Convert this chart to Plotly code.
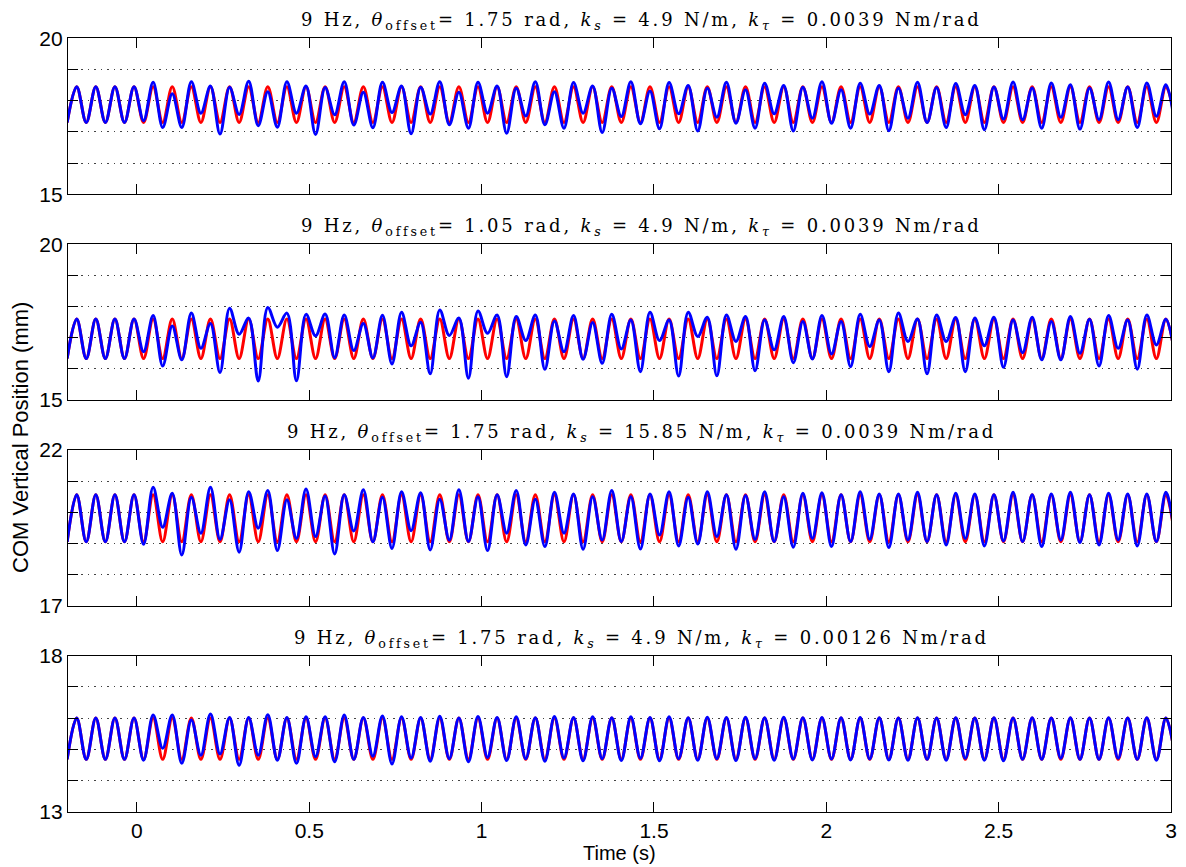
import numpy as np
import plotly.graph_objects as go

# ---------------- data ----------------
T_FIRST = -0.2025        # time of the first trough (s)
HALF_PERIOD = 0.02772    # time between successive extrema (s)

TITLES = [
    "9 Hz, <i>θ</i><sub>offset</sub>= 1.75 rad, <i>k<sub>s</sub></i> = 4.9 N/m, <i>k<sub>τ</sub></i> = 0.0039 Nm/rad",
    "9 Hz, <i>θ</i><sub>offset</sub>= 1.05 rad, <i>k<sub>s</sub></i> = 4.9 N/m, <i>k<sub>τ</sub></i> = 0.0039 Nm/rad",
    "9 Hz, <i>θ</i><sub>offset</sub>= 1.75 rad, <i>k<sub>s</sub></i> = 15.85 N/m, <i>k<sub>τ</sub></i> = 0.0039 Nm/rad",
    "9 Hz, <i>θ</i><sub>offset</sub>= 1.75 rad, <i>k<sub>s</sub></i> = 4.9 N/m, <i>k<sub>τ</sub></i> = 0.00126 Nm/rad",
]
Y_RANGES = [(15, 20), (15, 20), (17, 22), (13, 18)]

# reference (red) curve: trough / peak level of each panel
RED_TROUGH = [17.30, 16.33, 19.05, 14.68]
RED_PEAK = [18.45, 17.60, 20.56, 16.00]

# measured (blue) curve: successive extrema (trough, peak, trough, ...)
BLUE_1 = [17.30, 18.45, 17.30, 18.45, 17.30, 18.45, 17.30, 18.45, 17.36, 18.59,
          17.14, 18.22, 17.14, 18.61, 17.60, 18.47, 16.93, 18.43, 17.56, 18.62,
          17.20, 18.29, 17.15, 18.61, 17.60, 18.47, 16.92, 18.42, 17.55, 18.61,
          17.22, 18.27, 17.13, 18.59, 17.62, 18.47, 16.94, 18.43, 17.57, 18.61,
          17.23, 18.27, 17.12, 18.59, 17.60, 18.47, 16.96, 18.40, 17.51, 18.61,
          17.23, 18.29, 17.12, 18.58, 17.60, 18.47, 16.98, 18.40, 17.49, 18.61,
          17.26, 18.31, 17.10, 18.58, 17.58, 18.49, 17.03, 18.40, 17.47, 18.59,
          17.28, 18.35, 17.12, 18.56, 17.58, 18.49, 17.03, 18.43, 17.44, 18.61,
          17.28, 18.35, 17.12, 18.56, 17.57, 18.49, 17.04, 18.40, 17.44, 18.59,
          17.30, 18.42, 17.14, 18.55, 17.55, 18.49, 17.07, 18.44, 17.41, 18.60,
          17.39, 18.41, 17.12, 18.57, 17.47, 18.51, 17.09, 18.41, 17.39, 18.60,
          17.39, 18.44, 17.14, 18.57, 17.50, 18.51, 17.09]
BLUE_2 = [16.33, 17.60, 16.33, 17.60, 16.33, 17.60, 16.33, 17.60, 16.55, 17.71,
          16.09, 17.38, 16.29, 17.79, 16.66, 17.46, 15.88, 17.95, 17.11, 17.63,
          15.61, 17.97, 17.34, 17.79, 15.62, 17.75, 17.06, 17.76, 16.36, 17.73,
          16.59, 17.46, 16.35, 17.72, 16.16, 17.82, 16.74, 17.50, 15.84, 17.89,
          17.07, 17.63, 15.70, 17.86, 17.14, 17.73, 15.75, 17.68, 16.91, 17.73,
          15.99, 17.54, 16.55, 17.71, 16.31, 17.49, 16.18, 17.75, 16.64, 17.57,
          15.91, 17.82, 16.91, 17.57, 15.77, 17.82, 17.04, 17.66, 15.78, 17.73,
          16.88, 17.68, 15.94, 17.57, 16.61, 17.68, 16.20, 17.52, 16.32, 17.71,
          16.48, 17.52, 16.07, 17.75, 16.72, 17.57, 15.91, 17.79, 16.88, 17.60,
          15.84, 17.73, 16.88, 17.65, 15.91, 17.63, 16.74, 17.66, 16.05, 17.57,
          16.52, 17.66, 16.29, 17.52, 16.29, 17.68, 16.50, 17.59, 16.09, 17.71,
          16.66, 17.57, 15.99, 17.73, 16.77, 17.59, 16.30]
BLUE_3 = [19.05, 20.56, 19.05, 20.56, 19.05, 20.56, 19.05, 20.56, 18.97, 20.80,
          19.52, 20.61, 18.63, 20.48, 19.33, 20.80, 19.13, 20.40, 18.72, 20.66,
          19.49, 20.70, 18.77, 20.40, 19.16, 20.75, 19.22, 20.52, 18.66, 20.56,
          19.40, 20.72, 19.05, 20.48, 18.84, 20.66, 19.41, 20.63, 18.79, 20.42,
          19.11, 20.72, 19.06, 20.50, 18.77, 20.56, 19.33, 20.70, 18.95, 20.42,
          18.90, 20.64, 19.33, 20.59, 18.81, 20.50, 19.11, 20.70, 19.06, 20.50,
          18.82, 20.59, 19.27, 20.66, 18.92, 20.48, 18.98, 20.66, 19.22, 20.56,
          18.81, 20.54, 19.13, 20.66, 19.06, 20.50, 18.88, 20.61, 19.16, 20.63,
          18.90, 20.56, 19.06, 20.66, 19.13, 20.59, 18.87, 20.59, 19.11, 20.64,
          19.06, 20.56, 18.95, 20.61, 19.16, 20.59, 18.92, 20.56, 19.08, 20.64,
          19.06, 20.56, 18.90, 20.59, 19.11, 20.64, 19.03, 20.56, 18.95, 20.61,
          19.11, 20.59, 18.92, 20.59, 19.06, 20.64, 19.10]
BLUE_4 = [14.68, 16.00, 14.68, 16.00, 14.68, 16.00, 14.68, 16.00, 14.65, 16.10,
          15.03, 16.10, 14.55, 15.94, 14.81, 16.13, 14.85, 16.02, 14.49, 16.02,
          14.81, 16.11, 14.65, 16.02, 14.55, 16.04, 14.76, 16.04, 14.60, 16.10,
          14.68, 16.02, 14.78, 16.07, 14.53, 16.04, 14.72, 16.02, 14.62, 16.06,
          14.70, 16.00, 14.60, 16.05, 14.74, 16.02, 14.64, 16.04, 14.70, 16.01,
          14.62, 16.05, 14.72, 16.02, 14.63, 16.04, 14.70, 16.01, 14.64, 16.04,
          14.71, 16.02, 14.63, 16.04, 14.70, 16.01, 14.65, 16.03, 14.70, 16.02,
          14.64, 16.03, 14.70, 16.01, 14.65, 16.03, 14.69, 16.01, 14.66, 16.02,
          14.69, 16.01, 14.66, 16.02, 14.69, 16.01, 14.66, 16.00, 14.65, 16.01,
          14.68, 16.00, 14.65, 16.01, 14.71, 16.00, 14.65, 16.01, 14.63, 16.00,
          14.68, 16.01, 14.68, 16.00, 14.71, 16.01, 14.68, 16.00, 14.68, 16.01,
          14.71, 16.00, 14.68, 16.01, 14.65, 16.00, 14.68]
BLUE = [BLUE_1, BLUE_2, BLUE_3, BLUE_4]

X_TICKS = [0, 0.5, 1, 1.5, 2, 2.5, 3]
X_TICK_LABELS = ["0", "0.5", "1", "1.5", "2", "2.5", "3"]
X_RANGE = (-0.2, 3.0)

# ---------------- figure ----------------
W, H = 1186, 867
M_L, M_R, M_T, M_B = 68, 9, 38, 55
panel_px = [(38.3, 194.3), (244.3, 400.0), (450.0, 605.7), (655.7, 811.7)]
plot_h = (H - M_B) - M_T

def to_dom(top, bot):
    return [((H - M_B) - bot) / plot_h, ((H - M_B) - top) / plot_h]

fig = go.Figure()
tick_font = dict(family="Liberation Sans, Arial, sans-serif", size=21, color="black")
GRID_DASH = "1.5px,5px"

for i in range(4):
    n = len(BLUE[i])
    t = T_FIRST + HALF_PERIOD * np.arange(n)
    red = [RED_TROUGH[i] if k % 2 == 0 else RED_PEAK[i] for k in range(n)]
    ax = "" if i == 0 else str(i + 1)
    fig.add_trace(go.Scatter(x=t, y=red, mode="lines",
                             line=dict(color="#ff0000", width=3, shape="spline", smoothing=1.0),
                             xaxis="x" + ax, yaxis="y" + ax, showlegend=False, hoverinfo="skip"))
    fig.add_trace(go.Scatter(x=t, y=BLUE[i], mode="lines",
                             line=dict(color="#0000ff", width=3, shape="spline", smoothing=1.0),
                             xaxis="x" + ax, yaxis="y" + ax, showlegend=False, hoverinfo="skip"))

    lo, hi = Y_RANGES[i]
    dom = to_dom(*panel_px[i])
    fig.update_layout(**{
        "xaxis" + ax: dict(domain=[0, 1], range=list(X_RANGE), anchor="y" + ax,
                           tickvals=X_TICKS, ticktext=X_TICK_LABELS, showticklabels=(i == 3),
                           ticks="inside", ticklen=10, tickcolor="black", tickwidth=1,
                           showline=True, linecolor="black", linewidth=1.2, mirror="ticks",
                           showgrid=False, zeroline=False, tickfont=tick_font, fixedrange=True),
        "yaxis" + ax: dict(domain=dom, range=[lo, hi], anchor="x" + ax,
                           tickvals=[lo, hi], ticktext=[str(lo), str(hi)],
                           ticks="inside", ticklen=10, tickcolor="black", tickwidth=1,
                           showline=True, linecolor="black", linewidth=1.2, mirror="ticks",
                           showgrid=False, zeroline=False, tickfont=tick_font, fixedrange=True,
                           minor=dict(tickvals=list(range(lo + 1, hi)), ticks="inside", ticklen=10,
                                      tickcolor="black", tickwidth=1, showgrid=True,
                                      gridcolor="#444444", griddash=GRID_DASH, gridwidth=1)),
    })
    fig.add_annotation(text='<span style="letter-spacing:2.8px">' + TITLES[i] + '</span>',
                       xref="paper", yref="paper", x=0.52, y=dom[1],
                       xanchor="center", yanchor="bottom", yshift=3, showarrow=False,
                       font=dict(family="DejaVu Serif, serif", size=18, color="black"))

fig.add_annotation(text="COM Vertical Position (mm)", xref="paper", yref="paper",
                   x=0, y=to_dom(438, 438)[0], xshift=-47, textangle=-90,
                   xanchor="center", yanchor="middle", showarrow=False,
                   font=dict(family="Liberation Sans, Arial, sans-serif", size=22, color="black"))
fig.add_annotation(text="Time (s)", xref="paper", yref="paper", x=0.5, y=0, yshift=-41,
                   xanchor="center", yanchor="middle", showarrow=False,
                   font=dict(family="Liberation Sans, Arial, sans-serif", size=20, color="black"))

fig.update_layout(width=W, height=H, margin=dict(l=M_L, r=M_R, t=M_T, b=M_B, pad=0),
                  paper_bgcolor="white", plot_bgcolor="white", showlegend=False)

fig.write_html("out.html", config={"displayModeBar": False},
               post_script="document.body.style.margin='0px';")
